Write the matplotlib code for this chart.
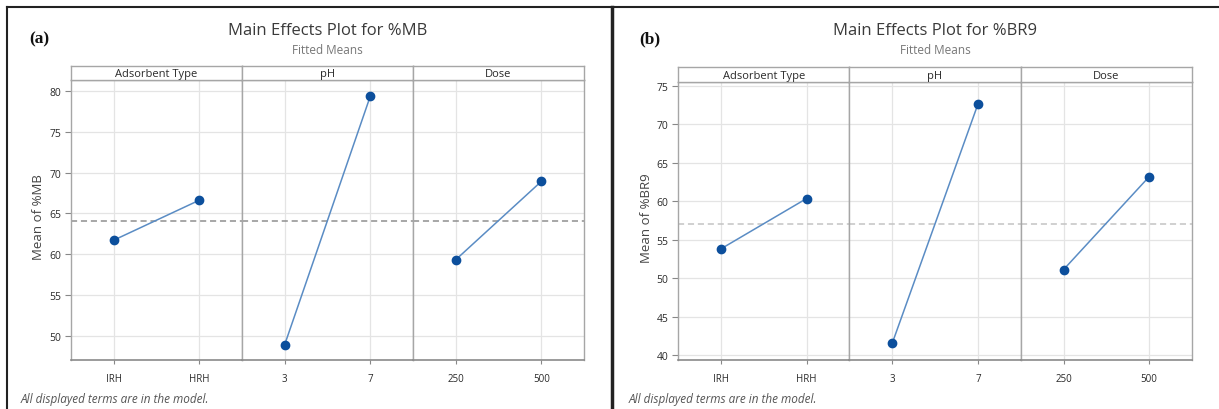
import numpy as np
import matplotlib.pyplot as plt
from matplotlib.lines import Line2D

plt.rcParams['font.family'] = ['Open Sans', 'DejaVu Sans']

# data
factors = ['Adsorbent Type', 'pH', 'Dose']
levels = [['IRH', 'HRH'], ['3', '7'], ['250', '500']]

mb_means = [[61.7, 66.6], [48.9, 79.35], [59.3, 68.9]]
mb_overall = 64.1
mb_yticks = [50, 55, 60, 65, 70, 75, 80]

br9_means = [[53.8, 60.35], [41.5, 72.6], [51.1, 63.2]]
br9_overall = 57.05
br9_yticks = [40, 45, 50, 55, 60, 65, 70, 75]

W, H = 1219, 410
LINE_C = '#5a8cc4'
MARK_C = '#0c4f9c'
GRID_C = '#e4e4e4'
SEP_C = '#a6a6a6'


def fx(px):
    return px / W


def fy(py):
    return 1 - py / H


# 主效应图
def draw_effects(fig, x0, x1, strip_top, strip_bot, data_bot, means, overall,
                 yticks, ylim, ylabel, title, tag, tag_x, ylabel_x, note_x,
                 mean_c):
    pw = (x1 - x0) / 3
    axes = []
    for i in range(3):
        left = x0 + i * pw
        ax = fig.add_axes([fx(left), fy(data_bot), pw / W, (data_bot - strip_bot) / H])
        ax.set_xlim(-0.5, 1.5)
        ax.set_ylim(*ylim)
        ax.set_xticks([0, 1])
        ax.set_xticklabels(levels[i], fontsize=7, color='#2a2a2a')
        ax.set_yticks(yticks)
        ax.grid(True, color=GRID_C, lw=0.9)
        ax.set_axisbelow(True)
        ax.axhline(overall, color=mean_c, ls=(0, (4, 2.5)), lw=1.1, zorder=1)
        ax.plot([0, 1], means[i], color=LINE_C, lw=1.1, zorder=2)
        ax.plot([0, 1], means[i], 'o', color=MARK_C, ms=6, zorder=3)
        ax.tick_params(axis='x', length=3, color='#888888', pad=7)
        ax.tick_params(axis='y', length=4, color='#888888', pad=3)
        for s in ['top', 'right', 'left']:
            ax.spines[s].set_color(SEP_C)
            ax.spines[s].set_linewidth(1.0)
        ax.spines['bottom'].set_color('#8a8a8a')
        ax.spines['bottom'].set_linewidth(1.2)
        if i == 0:
            ax.set_yticklabels([str(v) for v in yticks], fontsize=7.5, color='#2a2a2a')
        else:
            ax.tick_params(axis='y', left=False, labelleft=False)
        axes.append(ax)

        sax = fig.add_axes([fx(left), fy(strip_bot), pw / W, (strip_bot - strip_top) / H])
        sax.set_xticks([])
        sax.set_yticks([])
        for s in sax.spines.values():
            s.set_color(SEP_C)
            s.set_linewidth(1.0)
        sax.text(0.5, 0.45, factors[i], ha='center', va='center', fontsize=8,
                 color='#2a2a2a', transform=sax.transAxes)

    cx = (x0 + x1) / 2
    fig.text(fx(cx), fy(31), title, ha='center', va='center', fontsize=12, color='#3a3a3a')
    fig.text(fx(cx), fy(50), 'Fitted Means', ha='center', va='center', fontsize=8.5,
             color='#777777')
    fig.text(fx(tag_x), fy(39), tag, ha='left', va='center', fontsize=12.5,
             fontweight='bold', family='Liberation Serif', color='#111111')
    fig.text(fx(ylabel_x), fy((strip_bot + data_bot) / 2 - 4), ylabel, rotation=90,
             ha='center', va='center', fontsize=9.5, color='#444444')
    fig.text(fx(note_x), fy(400), 'All displayed terms are in the model.', ha='left',
             va='center', fontsize=8.5, style='italic', color='#555555')
    return axes


fig = plt.figure(figsize=(W / 100, H / 100), dpi=100)

draw_effects(fig, 71, 584, 67, 81, 360.5, mb_means, mb_overall, mb_yticks,
             (47.06, 81.35), 'Mean of %MB', 'Main Effects Plot for %MB', '(a)',
             29, 38, 21, '#8f8f8f')
draw_effects(fig, 678, 1192, 68, 83, 360.5, br9_means, br9_overall, br9_yticks,
             (39.41, 75.52), 'Mean of %BR9', 'Main Effects Plot for %BR9', '(b)',
             639, 646, 629, '#c4c4c4')

# 外框
fig.add_artist(Line2D([fx(7), 1], [fy(8), fy(8)], color='#222222', lw=1.5))
fig.add_artist(Line2D([fx(7), fx(7)], [fy(8), 0], color='#222222', lw=1.5))
fig.add_artist(Line2D([fx(612), fx(612)], [fy(8), 0], color='#222222', lw=2.5))

fig.savefig('out.png', dpi=100)
